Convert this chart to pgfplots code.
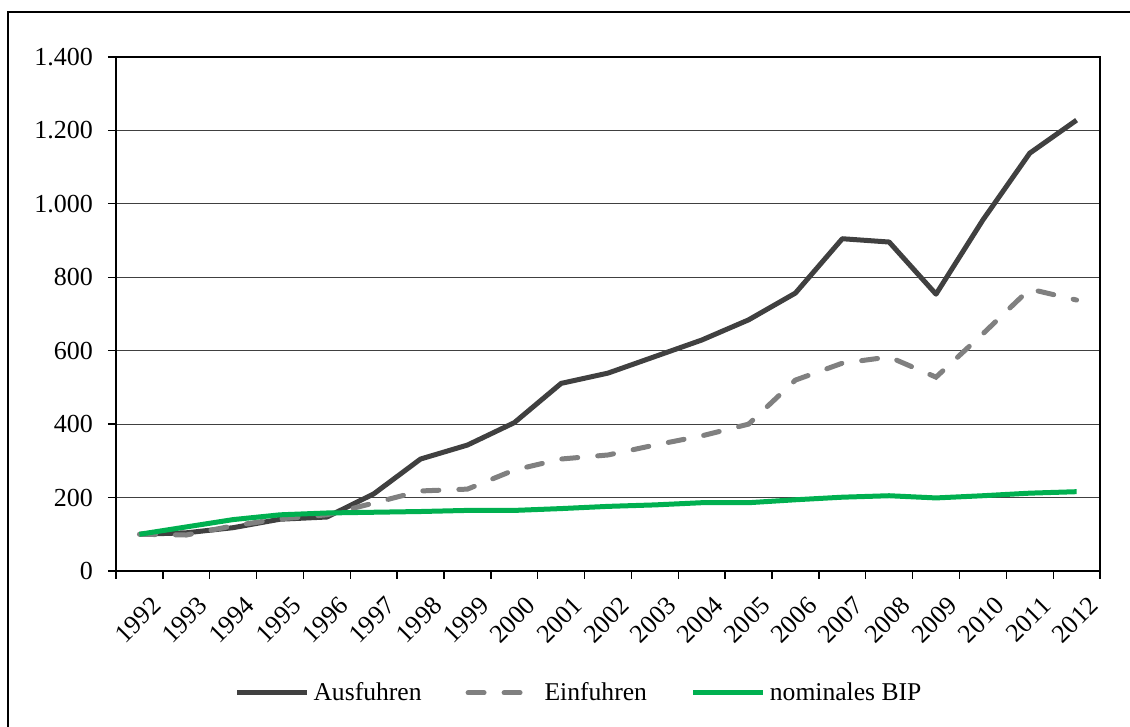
\documentclass[border=0pt]{standalone}
\usepackage{pgfplots}
\pgfplotsset{compat=1.18}
\usepackage{fontspec}
\setmainfont{Liberation Serif}
\definecolor{ausf}{HTML}{404040}
\definecolor{einf}{HTML}{808080}
\definecolor{bip}{HTML}{00B050}
\begin{document}
\begin{tikzpicture}
\useasboundingbox (0,0) rectangle (565pt,363.5pt);
\draw[line width=0.65pt] (4pt,-2pt) -- (4pt,357.5pt) -- (570pt,357.5pt);
\begin{axis}[
  at={(58pt,78pt)}, anchor=south west,
  scale only axis, width=492pt, height=257pt,
  xmin=-0.5, xmax=20.5, ymin=0, ymax=1400,
  xtick={-0.5,0.5,...,20.5},
  xticklabels={1992,1993,1994,1995,1996,1997,1998,1999,2000,2001,2002,2003,2004,2005,2006,2007,2008,2009,2010,2011,2012},
  x tick label as interval,
  ytick={0,200,...,1400},
  xtick pos=bottom, ytick pos=left,
  tick align=outside, major tick length=4pt,
  tick style={black, line width=0.65pt},
  axis line style={black, line width=0.65pt},
  ymajorgrids, grid style={black!75, line width=0.5pt},
  ticklabel style={font=\fontsize{13}{14}\selectfont},
  xticklabel style={rotate=45, anchor=north east, xshift=1.5pt, yshift=-6pt},
  yticklabel style={xshift=-4pt},
  /pgf/number format/1000 sep={.},
  /pgf/number format/assume math mode=true,
  legend columns=3,
  legend style={at={(0.4715,-0.237)}, anchor=center, draw=none, fill=none,
    font=\fontsize{12.8}{14}\selectfont,
    /tikz/every even column/.append style={column sep=20pt},
    /tikz/every odd column/.append style={column sep=0pt}},
  legend cell align=left,
  legend image code/.code={\draw[#1] (0pt,0pt) -- (35pt,0pt);},
]
\addplot[ausf, line width=2.5pt, line join=round] coordinates {
(0,100) (1,104) (2,118) (3,141) (4,147) (5,210) (6,305) (7,343) (8,404) (9,511)
(10,539) (11,584) (12,629) (13,684) (14,757) (15,905) (16,896) (17,754) (18,956) (19,1138) (20,1228)};
\addlegendentry{Ausfuhren}
\addplot[einf, line width=2.5pt, line cap=round, dash pattern=on 8pt off 10pt] coordinates {
(0,100) (1,98) (2,123) (3,142) (4,153) (5,185) (6,218) (7,223) (8,275) (9,305)
(10,316) (11,343) (12,368) (13,400) (14,520) (15,566) (16,583) (17,528) (18,646) (19,768) (20,738)};
\addlegendentry{Einfuhren}
\addplot[bip, line width=2.5pt, line join=round] coordinates {
(0,100) (1,120) (2,140) (3,153) (4,158) (5,160) (6,162) (7,165) (8,165) (9,170)
(10,176) (11,180) (12,186) (13,186) (14,194) (15,201) (16,205) (17,199) (18,205) (19,212) (20,216)};
\addlegendentry{nominales BIP}
\end{axis}
\end{tikzpicture}
\end{document}
